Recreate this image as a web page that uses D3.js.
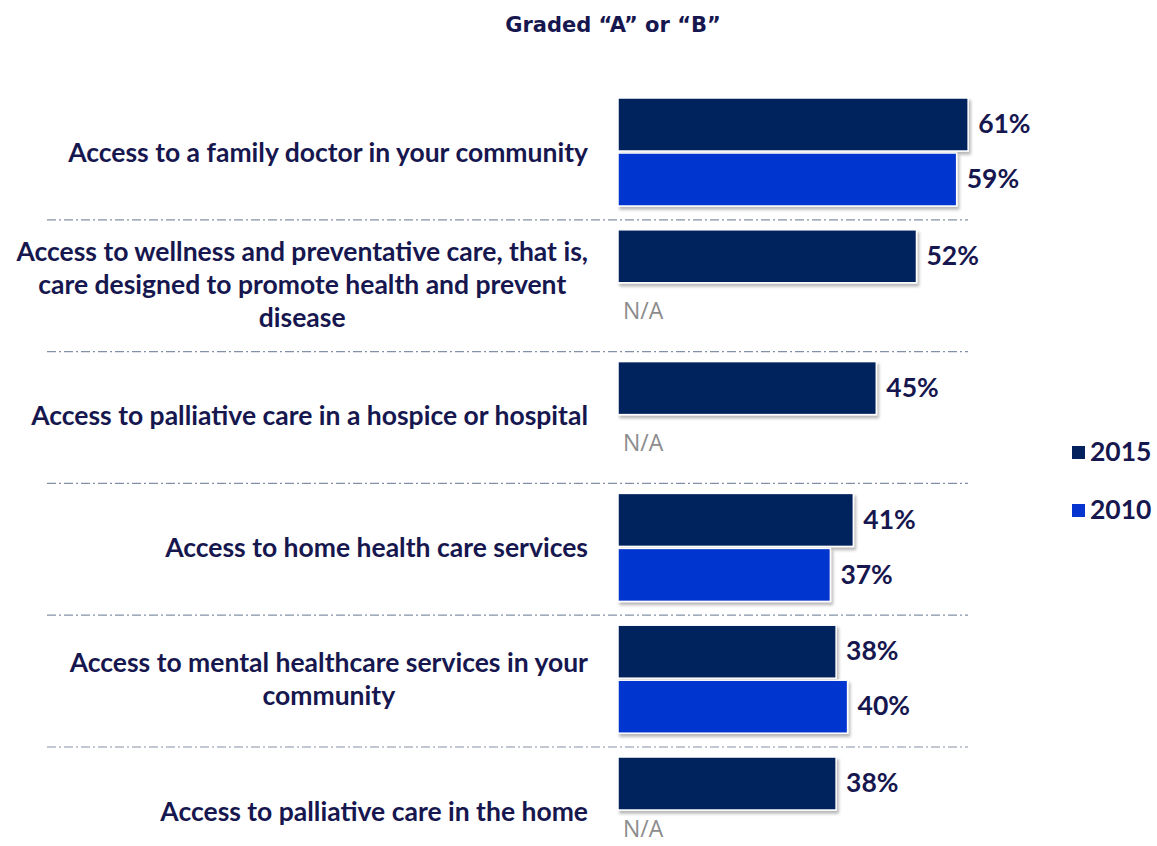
<!DOCTYPE html>
<html>
<head>
<meta charset="utf-8">
<script src="https://cdn.jsdelivr.net/npm/d3@7"></script>
<style>
  html, body { margin: 0; padding: 0; background: #ffffff; }
  svg { display: block; font-family: Lato, "Open Sans", sans-serif; }
</style>
</head>
<body>
<svg id="chart" width="1157" height="846"></svg>
<script>
// Share graded "A" or "B", by service
const categories = [
  "Access to a family doctor in your community",
  "Access to wellness and preventative care, that is, care designed to promote health and prevent disease",
  "Access to palliative care in a hospice or hospital",
  "Access to home health care services",
  "Access to mental healthcare services in your community",
  "Access to palliative care in the home"
];
const labelLines = [
  ["Access to a family doctor in your community"],
  ["Access to wellness and preventative care, that is,", "care designed to promote health and prevent", "disease"],
  ["Access to palliative care in a hospice or hospital"],
  ["Access to home health care services"],
  ["Access to mental healthcare services in your", "community"],
  ["Access to palliative care in the home"]
];
const seriesNames = ["2015", "2010"];
const values2015 = [61, 52, 45, 41, 38, 38];
const values2010 = [59, null, null, 37, 40, null];
const title = "Graded \u201CA\u201D or \u201CB\u201D";
const naLabel = "N/A";

const colors = { "2015": "#03215d", "2010": "#0534cf" };
const textColor = "#17174f";

const svg = d3.select("#chart");

const defs = svg.append("defs");
const shadow = defs.append("filter").attr("id", "barShadow")
  .attr("x", "-5%").attr("y", "-10%").attr("width", "115%").attr("height", "140%");
shadow.append("feDropShadow")
  .attr("dx", 2).attr("dy", 3).attr("stdDeviation", 1.6)
  .attr("flood-color", "#000").attr("flood-opacity", 0.28);

// scales
const x = d3.scaleLinear().domain([0, 100]).range([618, 618 + 574]);
const y = d3.scaleBand().domain(categories).range([98, 98 + 6 * 131.8]).paddingInner(0).paddingOuter(0);
const barH = 53, barGap = 2;
const slot = d3.scaleBand().domain(seriesNames).range([0, barH * 2 + barGap]).paddingInner(barGap / (barH + barGap));

const labelRight = 588;
const labelSize = 26.5;

// title
svg.append("text")
  .attr("x", 613).attr("y", 26)
  .attr("text-anchor", "middle")
  .attr("dominant-baseline", "middle")
  .style("font-family", "\"DejaVu Sans\", Verdana, sans-serif")
  .attr("font-size", 21).attr("font-weight", 700)
  .attr("fill", textColor)
  .text(title);

// dash-dot separators between groups
categories.slice(1).forEach(c => {
  const yy = y(c) - 10;
  svg.append("line")
    .attr("x1", 47).attr("x2", 968)
    .attr("y1", yy).attr("y2", yy)
    .attr("stroke", "#8391a6").attr("stroke-width", 1.2)
    .attr("stroke-dasharray", "9,3,2,3");
});

const rows = categories.map((c, i) => ({ c, i, v: { "2015": values2015[i], "2010": values2010[i] } }));

const g = svg.append("g");
rows.forEach(r => {
  const top = y(r.c);
  seriesNames.forEach(s => {
    const v = r.v[s];
    const by = top + slot(s);
    if (v == null) {
      // missing value: "N/A" in the empty bar slot, kept inside the canvas
      g.append("text")
        .attr("x", 623).attr("y", Math.min(by + slot.bandwidth() / 2 + 2, 831))
        .attr("dominant-baseline", "middle")
        .attr("font-size", 23)
        .style("font-family", "\"Open Sans\", sans-serif")
        .attr("fill", "#8c8c8c")
        .text(naLabel);
      return;
    }
    g.append("rect")
      .attr("x", x(0)).attr("y", by)
      .attr("width", x(v) - x(0)).attr("height", slot.bandwidth())
      .attr("fill", colors[s])
      .attr("stroke", "#ffffff").attr("stroke-width", 1.5)
      .attr("filter", "url(#barShadow)");
    g.append("text")
      .attr("x", x(v) + 10).attr("y", by + slot.bandwidth() / 2 + 2)
      .attr("dominant-baseline", "middle")
      .attr("font-size", 26.5).attr("font-weight", 700)
      .attr("fill", textColor)
      .text(v + "%");
  });

  // category label: right-aligned block, lines centred within it
  const lines = labelLines[r.i];
  const lh = 33;
  const cy = top + (barH * 2 + barGap) / 2 + 3;
  const t = g.append("text")
    .attr("font-size", labelSize).attr("font-weight", 700)
    .attr("fill", textColor);
  const spans = lines.map((ln, k) => t.append("tspan")
    .attr("x", labelRight)
    .attr("text-anchor", "end")
    .attr("y", cy + (k - (lines.length - 1) / 2) * lh)
    .attr("dominant-baseline", "middle")
    .text(ln));
  if (lines.length > 1) {
    const widest = d3.max(spans, sp => sp.node().getComputedTextLength());
    spans.forEach(sp => sp.attr("x", labelRight - widest / 2).attr("text-anchor", "middle"));
  }
});

// legend
const legend = svg.append("g");
seriesNames.forEach((s, i) => {
  const ly = 452 + i * 58;
  legend.append("rect")
    .attr("x", 1072).attr("y", ly - 6).attr("width", 13).attr("height", 13)
    .attr("fill", colors[s]);
  legend.append("text")
    .attr("x", 1090).attr("y", ly + 2)
    .attr("dominant-baseline", "middle")
    .attr("font-size", 26.5).attr("font-weight", 700)
    .attr("fill", textColor)
    .text(s);
});
</script>
</body>
</html>
